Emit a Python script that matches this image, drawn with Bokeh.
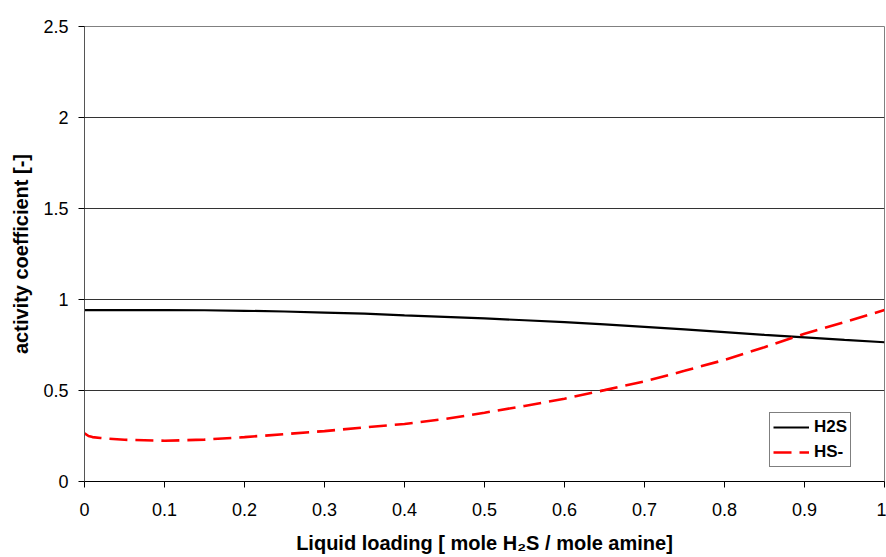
from bokeh.plotting import figure
from bokeh.models import Range1d, FixedTicker, Legend, LegendItem
from bokeh.embed import file_html
from bokeh.resources import INLINE

# Data
loading = [0.0, 0.005, 0.01, 0.02, 0.05, 0.1, 0.15, 0.2, 0.25, 0.3, 0.35, 0.4, 0.45,
           0.5, 0.55, 0.6, 0.65, 0.7, 0.75, 0.8, 0.85, 0.9, 0.95, 1.0]
h2s = [0.942, 0.942, 0.942, 0.942, 0.942, 0.942, 0.941, 0.938, 0.934, 0.928, 0.922, 0.913, 0.905,
       0.896, 0.886, 0.876, 0.863, 0.850, 0.836, 0.821, 0.806, 0.792, 0.778, 0.765]
hs = [0.265, 0.250, 0.244, 0.239, 0.229, 0.224, 0.230, 0.244, 0.260, 0.277, 0.297, 0.316, 0.343,
      0.378, 0.415, 0.455, 0.502, 0.550, 0.608, 0.668, 0.738, 0.812, 0.875, 0.942]
x_ticks = [0, 0.1, 0.2, 0.3, 0.4, 0.5, 0.6, 0.7, 0.8, 0.9, 1.0]
x_tick_labels = ["0", "0.1", "0.2", "0.3", "0.4", "0.5", "0.6", "0.7", "0.8", "0.9", "1"]
y_ticks = [0, 0.5, 1.0, 1.5, 2.0, 2.5]
y_tick_labels = ["0", "0.5", "1", "1.5", "2", "2.5"]

FONT = "Liberation Sans"

p = figure(width=886, height=557, output_backend="svg", toolbar_location=None,
           x_range=Range1d(0, 1), y_range=Range1d(0, 2.5),
           min_border_left=84, min_border_right=2, min_border_top=26, min_border_bottom=76)
p.background_fill_color = "white"
p.border_fill_color = "white"
p.outline_line_color = "#808080"
p.outline_line_width = 1

# Grid
p.xgrid.grid_line_color = None
p.ygrid.grid_line_color = "#333333"
p.ygrid.grid_line_width = 1

# Axes
p.xaxis.ticker = FixedTicker(ticks=x_ticks)
p.xaxis.major_label_overrides = {t: l for t, l in zip(x_ticks, x_tick_labels)}
p.yaxis.ticker = FixedTicker(ticks=y_ticks)
p.yaxis.major_label_overrides = {t: l for t, l in zip(y_ticks, y_tick_labels)}
for ax in (p.xaxis, p.yaxis):
    ax.axis_line_color = "#000000"
    ax.axis_line_width = 1
    ax.major_tick_line_color = "#000000"
    ax.major_tick_in = 0
    ax.major_tick_out = 6
    ax.minor_tick_line_color = None
    ax.major_label_text_font = FONT
    ax.major_label_text_font_size = "18px"
    ax.major_label_text_color = "#000000"
    ax.axis_label_text_font = FONT
    ax.axis_label_text_font_size = "20px"
    ax.axis_label_text_font_style = "bold"
    ax.axis_label_text_color = "#000000"
p.yaxis.axis_line_color = "#555555"
p.xaxis.axis_label = "Liquid loading [ mole H\u2082S / mole amine]"
p.yaxis.axis_label = "activity coefficient [-]"
p.xaxis.major_label_standoff = 15
p.yaxis.major_label_standoff = 10
p.xaxis.axis_label_standoff = 13
p.yaxis.axis_label_standoff = 8

r1 = p.line(loading, h2s, line_color="#000000", line_width=2.2)
r2 = p.line(loading, hs, line_color="#FF0000", line_width=2.6, line_dash="18 8")

legend = Legend(items=[LegendItem(label="H2S", renderers=[r1]),
                       LegendItem(label="HS-", renderers=[r2])],
                location=(685, 14))
legend.label_text_font = FONT
legend.label_text_font_size = "17px"
legend.label_text_font_style = "bold"
legend.label_text_color = "#000000"
legend.border_line_color = "#000000"
legend.border_line_width = 1
legend.background_fill_color = "white"
legend.background_fill_alpha = 1
legend.glyph_width = 36
legend.glyph_height = 22
legend.label_standoff = 5
legend.label_height = 22
legend.padding = 3
legend.spacing = 3
legend.margin = 0
p.add_layout(legend, "center")

open("out.html", "w").write(file_html(p, INLINE))
